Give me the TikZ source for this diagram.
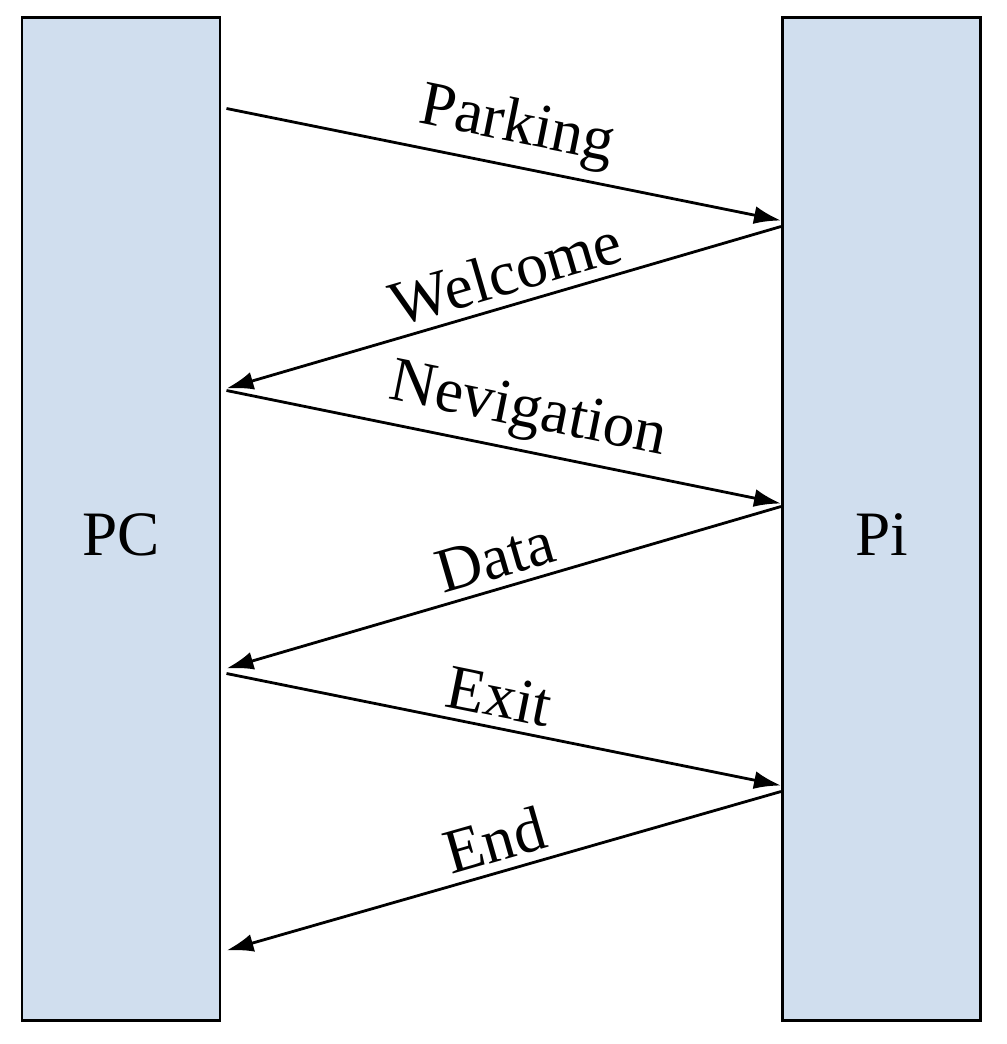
\documentclass[tikz,border=0pt]{standalone}
\usepackage{fontspec}
\setmainfont{Liberation Serif}
\usetikzlibrary{arrows.meta}
\definecolor{laneblue}{RGB}{208,222,238}
\tikzset{
  lane/.style={draw,line width=1.7pt,fill=laneblue,minimum width=3.96cm,minimum height=20.04cm,text height=1.44cm,text depth=0pt,font=\fontsize{36}{43}\selectfont},
  msg/.style={line width=1.6pt,-{Latex[length=5.4mm,width=3.6mm]}},
  lbl/.style={above=4pt,sloped,inner sep=1pt,font=\fontsize{36}{43}\selectfont}
}
\def\msg{\draw[msg]}

\begin{document}
\begin{tikzpicture}
    \useasboundingbox (0,0) rectangle (20.12,-20.88);
    \node[lane] (pc) at (2.42,-10.38) {PC};
    \node[lane] (pi) at (17.63,-10.38) {Pi};
    \msg ([xshift=1mm,yshift=-1.84cm]pc.north east) -- ([yshift=-4.08cm]pi.north west) node[lbl,pos=0.51] {Parking};
    \msg ([yshift=-4.20cm]pi.north west) -- ([xshift=1mm,yshift=-7.44cm]pc.north east) node[lbl,pos=0.48] {Welcome};
    \msg ([xshift=1mm,yshift=-7.48cm]pc.north east) -- ([yshift=-9.74cm]pi.north west) node[lbl,pos=0.53] {Nevigation};
    \msg ([yshift=-9.80cm]pi.north west) -- ([xshift=1mm,yshift=-13.04cm]pc.north east) node[lbl,midway] {Data};
    \msg ([xshift=1mm,yshift=-13.14cm]pc.north east) -- ([yshift=-15.38cm]pi.north west) node[lbl,pos=0.48] {Exit};
    \msg ([yshift=-15.50cm]pi.north west) -- ([xshift=1mm,yshift=-18.68cm]pc.north east) node[lbl,midway] {End};
\end{tikzpicture}
\end{document}
